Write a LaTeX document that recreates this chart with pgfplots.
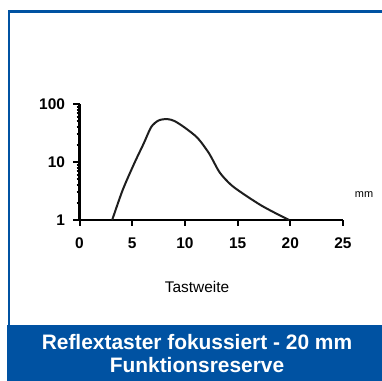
\documentclass[border=0pt]{standalone}
\usepackage{pgfplots}
\pgfplotsset{compat=1.18}
\usepackage{fontspec}
\setmainfont{Liberation Sans}
\definecolor{frameblue}{RGB}{0,82,162}
\definecolor{curve}{RGB}{30,30,30}

\begin{document}
\begin{tikzpicture}[x=1bp,y=1bp]
\useasboundingbox (0,0) rectangle (382,381);
% blue frame and title band
\draw[frameblue, line width=2.5bp] (382,369.5) -- (9,369.5) -- (9,56);
\fill[frameblue] (7,0) rectangle (382,56);
\node[white, font=\bfseries\fontsize{21}{23}\selectfont, align=center]
  at (197,27.5) {Reflextaster fokussiert - 20 mm\\Funktionsreserve};

\begin{axis}[
  at={(79.5bp,161bp)}, anchor=origin,
  scale only axis,
  width=263.5bp, height=116bp,
  xmin=0, xmax=25, ymin=1, ymax=100,
  ymode=log,
  axis lines*=left,
  axis line style={line width=2.2bp, black},
  xtick={0,5,10,15,20,25},
  ytick={1,10,100},
  yticklabels={1,10,100},
  minor ytick={},
  tick align=outside,
  major tick length=6bp,
  tick style={line width=2bp, black},
  ticklabel style={font=\bfseries\fontsize{15.5}{17}\selectfont},
  /pgf/number format/assume math mode=true,
  xticklabel style={yshift=-8bp},
  yticklabel style={xshift=-5bp},
  xlabel={Tastweite},
  xlabel style={at={(axis description cs:0.446,-0.578)}, anchor=center,
    font=\fontsize{15.5}{17}\selectfont},
  clip=false,
]
\addplot[curve, line width=2bp, smooth, tension=0.45] coordinates {
  (3.1,1) (4.1,3.3) (5.2,9.5) (6.1,21) (6.8,40) (7.5,52) (8.3,55)
  (9.0,51) (10.0,39) (11.2,26) (12.3,14) (13.3,6.6) (14.4,4)
  (15.7,2.7) (17.2,1.8) (18.5,1.34) (19.9,1)
};
\node[font=\fontsize{11}{13}\selectfont] at (axis description cs:1.08,0.216) {mm};
\end{axis}
\end{tikzpicture}
\end{document}
